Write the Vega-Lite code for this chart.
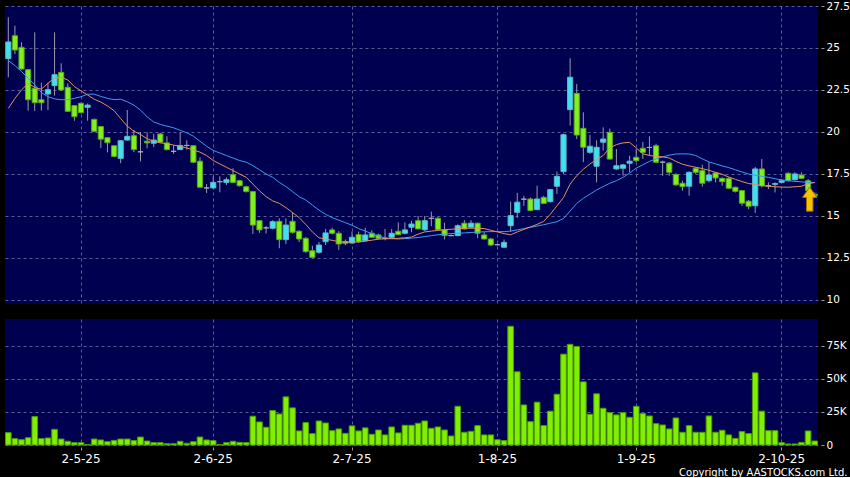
{
  "$schema": "https://vega.github.io/schema/vega-lite/v6.json",
  "background": "#000000",
  "padding": {"left": 4, "top": 1, "right": 0, "bottom": 0},
  "config": {
    "view": {"fill": "#000050", "stroke": null},
    "axis": {"labelColor": "#ffffff", "labelFont": "DejaVu Sans", "labelFontSize": 10.5, "gridColor": "#5c5c94", "gridDash": [3, 3], "gridWidth": 1, "domain": false, "tickColor": "#9a9a9a"}
  },
  "data": {"values": [
    {"d":"14-4-25","o":24.37,"h":26.83,"l":23.26,"c":25.36,"v":9300,"ma10":21.4,"ma20":24.25},
    {"d":"15-4-25","o":25.73,"h":26.33,"l":24.64,"c":24.88,"v":4800,"ma10":22.0,"ma20":23.95},
    {"d":"16-4-25","o":25.04,"h":25.34,"l":23.7,"c":23.75,"v":4000,"ma10":22.5,"ma20":23.6},
    {"d":"17-4-25","o":23.71,"h":23.75,"l":21.27,"c":21.92,"v":5500,"ma10":22.9,"ma20":23.2},
    {"d":"22-4-25","o":22.6,"h":25.93,"l":21.25,"c":21.74,"v":21400,"ma10":22.65,"ma20":22.8},
    {"d":"23-4-25","o":21.92,"h":22.93,"l":21.27,"c":21.74,"v":4800,"ma10":22.55,"ma20":22.35},
    {"d":"24-4-25","o":22.26,"h":22.93,"l":21.31,"c":22.52,"v":5300,"ma10":22.9,"ma20":22.1},
    {"d":"25-4-25","o":22.76,"h":25.93,"l":22.16,"c":23.41,"v":11800,"ma10":23.2,"ma20":21.97},
    {"d":"28-4-25","o":23.55,"h":24.09,"l":22.45,"c":22.5,"v":4500,"ma10":23.25,"ma20":21.92},
    {"d":"29-4-25","o":22.66,"h":22.9,"l":21.2,"c":21.23,"v":2800,"ma10":23.1,"ma20":21.93},
    {"d":"30-4-25","o":21.57,"h":21.6,"l":20.67,"c":20.91,"v":1800,"ma10":22.7,"ma20":22.0},
    {"d":"2-5-25","o":21.71,"h":21.75,"l":21.1,"c":21.15,"v":1800,"ma10":22.45,"ma20":22.1},
    {"d":"6-5-25","o":21.47,"h":21.7,"l":20.67,"c":21.6,"v":300,"ma10":22.2,"ma20":22.25},
    {"d":"7-5-25","o":20.75,"h":20.8,"l":19.98,"c":20.04,"v":4500,"ma10":21.95,"ma20":22.25},
    {"d":"8-5-25","o":20.32,"h":20.35,"l":19.05,"c":19.57,"v":3800,"ma10":21.78,"ma20":22.12},
    {"d":"9-5-25","o":19.66,"h":19.7,"l":18.79,"c":19.36,"v":2500,"ma10":21.55,"ma20":22.0},
    {"d":"12-5-25","o":19.18,"h":19.2,"l":18.5,"c":18.55,"v":3500,"ma10":21.27,"ma20":21.93},
    {"d":"13-5-25","o":18.43,"h":19.5,"l":18.14,"c":19.48,"v":4500,"ma10":20.8,"ma20":21.95},
    {"d":"14-5-25","o":19.52,"h":21.31,"l":19.5,"c":19.74,"v":4500,"ma10":20.35,"ma20":21.8},
    {"d":"15-5-25","o":19.78,"h":20.12,"l":18.8,"c":18.95,"v":3300,"ma10":20.05,"ma20":21.6},
    {"d":"16-5-25","o":18.82,"h":20.0,"l":18.25,"c":18.82,"v":6000,"ma10":19.85,"ma20":21.3},
    {"d":"19-5-25","o":19.45,"h":19.98,"l":19.03,"c":19.35,"v":3000,"ma10":19.6,"ma20":20.9},
    {"d":"20-5-25","o":19.33,"h":19.9,"l":19.1,"c":19.52,"v":1800,"ma10":19.45,"ma20":20.6},
    {"d":"21-5-25","o":19.88,"h":19.95,"l":19.35,"c":19.39,"v":1800,"ma10":19.35,"ma20":20.45},
    {"d":"22-5-25","o":19.35,"h":19.74,"l":18.9,"c":18.95,"v":1000,"ma10":19.3,"ma20":20.35},
    {"d":"23-5-25","o":18.85,"h":19.21,"l":18.7,"c":18.85,"v":1000,"ma10":19.22,"ma20":20.25},
    {"d":"26-5-25","o":18.95,"h":19.98,"l":18.95,"c":19.19,"v":2800,"ma10":19.15,"ma20":20.1},
    {"d":"27-5-25","o":19.2,"h":19.5,"l":18.95,"c":19.2,"v":1300,"ma10":19.05,"ma20":19.95},
    {"d":"28-5-25","o":19.18,"h":19.2,"l":18.15,"c":18.2,"v":2500,"ma10":18.93,"ma20":19.75},
    {"d":"29-5-25","o":18.26,"h":18.49,"l":16.7,"c":16.71,"v":6000,"ma10":18.8,"ma20":19.45},
    {"d":"30-5-25","o":16.67,"h":16.9,"l":16.37,"c":16.67,"v":3800,"ma10":18.6,"ma20":19.15},
    {"d":"2-6-25","o":16.67,"h":17.36,"l":16.6,"c":17.0,"v":3300,"ma10":18.3,"ma20":18.9},
    {"d":"3-6-25","o":17.04,"h":17.36,"l":16.41,"c":17.04,"v":300,"ma10":18.1,"ma20":18.75},
    {"d":"4-6-25","o":17.0,"h":17.3,"l":16.85,"c":17.16,"v":1800,"ma10":17.9,"ma20":18.6},
    {"d":"5-6-25","o":17.46,"h":17.84,"l":16.95,"c":17.0,"v":2800,"ma10":17.7,"ma20":18.45},
    {"d":"6-6-25","o":17.1,"h":17.15,"l":16.75,"c":16.8,"v":2000,"ma10":17.5,"ma20":18.3},
    {"d":"9-6-25","o":16.74,"h":16.8,"l":16.4,"c":16.45,"v":1800,"ma10":17.3,"ma20":18.2},
    {"d":"10-6-25","o":16.45,"h":16.5,"l":13.93,"c":14.46,"v":21700,"ma10":16.9,"ma20":18.0},
    {"d":"11-6-25","o":14.72,"h":14.75,"l":14.0,"c":14.17,"v":17400,"ma10":16.5,"ma20":17.75},
    {"d":"12-6-25","o":14.29,"h":14.4,"l":13.95,"c":14.29,"v":13400,"ma10":16.15,"ma20":17.5},
    {"d":"13-6-25","o":14.27,"h":14.75,"l":14.2,"c":14.66,"v":26000,"ma10":15.9,"ma20":17.3},
    {"d":"16-6-25","o":14.68,"h":14.86,"l":13.08,"c":13.59,"v":23400,"ma10":15.75,"ma20":17.0},
    {"d":"17-6-25","o":13.59,"h":14.86,"l":13.33,"c":14.46,"v":36300,"ma10":15.5,"ma20":16.75},
    {"d":"18-6-25","o":14.68,"h":15.22,"l":13.95,"c":14.03,"v":28000,"ma10":15.2,"ma20":16.45},
    {"d":"19-6-25","o":14.09,"h":14.15,"l":13.45,"c":13.63,"v":10600,"ma10":14.9,"ma20":16.15},
    {"d":"20-6-25","o":13.67,"h":13.75,"l":12.8,"c":12.88,"v":16900,"ma10":14.5,"ma20":15.95},
    {"d":"23-6-25","o":12.93,"h":13.23,"l":12.5,"c":12.54,"v":8600,"ma10":14.05,"ma20":15.65},
    {"d":"24-6-25","o":12.84,"h":13.45,"l":12.75,"c":13.27,"v":18100,"ma10":13.7,"ma20":15.35},
    {"d":"25-6-25","o":13.47,"h":14.23,"l":13.27,"c":13.99,"v":16600,"ma10":13.62,"ma20":15.1},
    {"d":"26-6-25","o":14.17,"h":14.3,"l":13.9,"c":13.97,"v":10800,"ma10":13.55,"ma20":14.9},
    {"d":"27-6-25","o":13.97,"h":14.1,"l":12.98,"c":13.33,"v":12100,"ma10":13.47,"ma20":14.75},
    {"d":"30-6-25","o":13.49,"h":13.6,"l":13.25,"c":13.37,"v":8800,"ma10":13.45,"ma20":14.6},
    {"d":"2-7-25","o":13.39,"h":14.07,"l":13.35,"c":13.73,"v":14400,"ma10":13.45,"ma20":14.45},
    {"d":"3-7-25","o":13.89,"h":14.07,"l":13.4,"c":13.47,"v":10600,"ma10":13.45,"ma20":14.25},
    {"d":"4-7-25","o":13.53,"h":14.3,"l":13.5,"c":13.87,"v":12900,"ma10":13.5,"ma20":14.1},
    {"d":"7-7-25","o":13.97,"h":14.15,"l":13.7,"c":13.73,"v":8100,"ma10":13.56,"ma20":13.95},
    {"d":"8-7-25","o":13.87,"h":13.95,"l":13.6,"c":13.67,"v":11300,"ma10":13.62,"ma20":13.8},
    {"d":"9-7-25","o":13.67,"h":14.23,"l":13.55,"c":13.67,"v":7600,"ma10":13.64,"ma20":13.7},
    {"d":"10-7-25","o":13.73,"h":14.23,"l":13.7,"c":13.97,"v":13600,"ma10":13.65,"ma20":13.65},
    {"d":"11-7-25","o":14.09,"h":14.62,"l":13.85,"c":13.89,"v":9100,"ma10":13.67,"ma20":13.63},
    {"d":"14-7-25","o":13.97,"h":14.62,"l":13.9,"c":14.17,"v":14900,"ma10":13.7,"ma20":13.65},
    {"d":"15-7-25","o":14.33,"h":14.72,"l":14.03,"c":14.52,"v":14900,"ma10":13.75,"ma20":13.68},
    {"d":"16-7-25","o":14.72,"h":15.0,"l":14.2,"c":14.23,"v":16400,"ma10":13.92,"ma20":13.72},
    {"d":"17-7-25","o":14.18,"h":15.0,"l":14.1,"c":14.72,"v":18100,"ma10":14.05,"ma20":13.77},
    {"d":"18-7-25","o":14.86,"h":15.26,"l":14.39,"c":14.86,"v":12600,"ma10":14.1,"ma20":13.83},
    {"d":"21-7-25","o":14.86,"h":14.95,"l":14.15,"c":14.18,"v":13600,"ma10":14.14,"ma20":13.88},
    {"d":"22-7-25","o":14.18,"h":14.6,"l":13.6,"c":13.83,"v":11300,"ma10":14.18,"ma20":13.92},
    {"d":"23-7-25","o":13.83,"h":13.9,"l":13.8,"c":13.83,"v":6800,"ma10":14.21,"ma20":13.95},
    {"d":"24-7-25","o":13.83,"h":14.5,"l":13.8,"c":14.42,"v":29200,"ma10":14.24,"ma20":13.97},
    {"d":"25-7-25","o":14.57,"h":14.75,"l":14.2,"c":14.23,"v":9600,"ma10":14.27,"ma20":13.99},
    {"d":"28-7-25","o":14.33,"h":14.75,"l":14.3,"c":14.57,"v":10300,"ma10":14.27,"ma20":14.02},
    {"d":"29-7-25","o":14.57,"h":14.6,"l":13.67,"c":13.97,"v":14600,"ma10":14.27,"ma20":14.04},
    {"d":"30-7-25","o":13.87,"h":14.05,"l":13.6,"c":13.63,"v":7600,"ma10":14.25,"ma20":14.06},
    {"d":"31-7-25","o":13.63,"h":13.7,"l":13.2,"c":13.27,"v":7600,"ma10":14.15,"ma20":14.07},
    {"d":"1-8-25","o":13.29,"h":13.35,"l":13.25,"c":13.29,"v":4000,"ma10":14.05,"ma20":14.07},
    {"d":"4-8-25","o":13.14,"h":13.6,"l":13.1,"c":13.43,"v":3300,"ma10":13.95,"ma20":14.07},
    {"d":"5-8-25","o":14.42,"h":15.85,"l":14.06,"c":15.02,"v":89500,"ma10":13.88,"ma20":14.1},
    {"d":"6-8-25","o":15.22,"h":16.37,"l":14.9,"c":15.82,"v":55200,"ma10":14.05,"ma20":14.17},
    {"d":"7-8-25","o":16.0,"h":16.2,"l":15.6,"c":16.0,"v":30200,"ma10":14.2,"ma20":14.25},
    {"d":"8-8-25","o":16.01,"h":16.1,"l":15.3,"c":15.32,"v":17600,"ma10":14.35,"ma20":14.32},
    {"d":"11-8-25","o":15.38,"h":16.8,"l":15.35,"c":16.01,"v":32300,"ma10":14.5,"ma20":14.4},
    {"d":"12-8-25","o":16.11,"h":16.2,"l":15.7,"c":15.75,"v":14600,"ma10":14.68,"ma20":14.48},
    {"d":"13-8-25","o":15.85,"h":16.6,"l":15.8,"c":16.57,"v":25500,"ma10":15.1,"ma20":14.57},
    {"d":"14-8-25","o":16.77,"h":17.64,"l":16.31,"c":17.36,"v":38300,"ma10":15.6,"ma20":14.66},
    {"d":"15-8-25","o":17.64,"h":19.9,"l":17.5,"c":19.84,"v":68500,"ma10":16.1,"ma20":14.85},
    {"d":"18-8-25","o":21.33,"h":24.39,"l":20.38,"c":23.26,"v":75900,"ma10":16.9,"ma20":15.3},
    {"d":"19-8-25","o":22.3,"h":22.86,"l":19.58,"c":19.82,"v":74300,"ma10":17.4,"ma20":15.75},
    {"d":"20-8-25","o":20.22,"h":21.17,"l":18.2,"c":19.09,"v":47600,"ma10":17.78,"ma20":16.05},
    {"d":"21-8-25","o":18.79,"h":19.82,"l":18.7,"c":19.15,"v":23200,"ma10":18.1,"ma20":16.3},
    {"d":"22-8-25","o":17.96,"h":19.5,"l":17.0,"c":19.09,"v":38600,"ma10":18.35,"ma20":16.55},
    {"d":"25-8-25","o":19.39,"h":20.28,"l":18.9,"c":19.58,"v":27700,"ma10":18.6,"ma20":16.75},
    {"d":"26-8-25","o":19.98,"h":20.2,"l":18.35,"c":18.39,"v":24400,"ma10":19.05,"ma20":16.95},
    {"d":"27-8-25","o":17.8,"h":18.99,"l":17.75,"c":17.99,"v":22700,"ma10":19.25,"ma20":17.1},
    {"d":"28-8-25","o":17.84,"h":18.1,"l":17.4,"c":18.04,"v":24400,"ma10":19.35,"ma20":17.3},
    {"d":"29-8-25","o":18.14,"h":18.59,"l":17.6,"c":18.26,"v":20900,"ma10":19.38,"ma20":17.55},
    {"d":"1-9-25","o":18.49,"h":18.99,"l":18.2,"c":18.29,"v":29200,"ma10":19.05,"ma20":17.85},
    {"d":"2-9-25","o":19.03,"h":19.4,"l":18.4,"c":18.79,"v":23700,"ma10":18.7,"ma20":18.05},
    {"d":"3-9-25","o":19.08,"h":19.74,"l":18.6,"c":19.08,"v":21900,"ma10":18.6,"ma20":18.25},
    {"d":"4-9-25","o":19.18,"h":19.3,"l":18.15,"c":18.2,"v":16100,"ma10":18.55,"ma20":18.4},
    {"d":"5-9-25","o":18.2,"h":18.3,"l":17.4,"c":18.2,"v":15100,"ma10":18.52,"ma20":18.52},
    {"d":"8-9-25","o":18.15,"h":18.2,"l":17.4,"c":17.6,"v":12100,"ma10":18.45,"ma20":18.62},
    {"d":"9-9-25","o":17.47,"h":17.55,"l":16.8,"c":16.85,"v":20400,"ma10":18.25,"ma20":18.69},
    {"d":"10-9-25","o":16.95,"h":17.1,"l":16.5,"c":16.74,"v":9600,"ma10":18.08,"ma20":18.7},
    {"d":"11-9-25","o":16.77,"h":17.65,"l":16.21,"c":17.6,"v":14600,"ma10":17.98,"ma20":18.69},
    {"d":"12-9-25","o":17.84,"h":17.9,"l":17.5,"c":17.6,"v":9600,"ma10":17.9,"ma20":18.6},
    {"d":"15-9-25","o":17.7,"h":18.05,"l":16.75,"c":16.95,"v":9600,"ma10":17.82,"ma20":18.4},
    {"d":"16-9-25","o":17.1,"h":18.2,"l":17.0,"c":17.44,"v":21900,"ma10":17.72,"ma20":18.22},
    {"d":"17-9-25","o":17.56,"h":17.6,"l":17.0,"c":17.26,"v":9600,"ma10":17.6,"ma20":18.1},
    {"d":"18-9-25","o":17.24,"h":17.3,"l":16.8,"c":17.04,"v":11100,"ma10":17.48,"ma20":17.98},
    {"d":"19-9-25","o":17.24,"h":17.3,"l":16.6,"c":16.65,"v":7600,"ma10":17.32,"ma20":17.88},
    {"d":"22-9-25","o":16.71,"h":16.75,"l":16.4,"c":16.47,"v":5000,"ma10":17.18,"ma20":17.75},
    {"d":"23-9-25","o":16.51,"h":16.55,"l":15.6,"c":15.76,"v":10100,"ma10":17.05,"ma20":17.62},
    {"d":"24-9-25","o":15.88,"h":15.95,"l":15.4,"c":15.58,"v":8600,"ma10":16.93,"ma20":17.5},
    {"d":"25-9-25","o":15.61,"h":17.92,"l":15.18,"c":17.8,"v":54400,"ma10":16.88,"ma20":17.42},
    {"d":"26-9-25","o":17.8,"h":18.39,"l":16.7,"c":16.8,"v":25500,"ma10":16.8,"ma20":17.36},
    {"d":"29-9-25","o":16.8,"h":17.0,"l":16.6,"c":16.8,"v":10800,"ma10":16.77,"ma20":17.3},
    {"d":"30-9-25","o":16.88,"h":17.0,"l":16.4,"c":16.93,"v":10800,"ma10":16.74,"ma20":17.22},
    {"d":"2-10-25","o":17.0,"h":17.2,"l":16.95,"c":17.1,"v":1800,"ma10":16.72,"ma20":17.15},
    {"d":"3-10-25","o":17.54,"h":17.6,"l":17.05,"c":17.1,"v":800,"ma10":16.71,"ma20":17.1},
    {"d":"6-10-25","o":17.16,"h":17.6,"l":17.1,"c":17.5,"v":800,"ma10":16.74,"ma20":17.06},
    {"d":"8-10-25","o":17.44,"h":17.6,"l":17.2,"c":17.24,"v":2000,"ma10":16.77,"ma20":17.03},
    {"d":"9-10-25","o":17.1,"h":17.2,"l":16.45,"c":16.51,"v":10600,"ma10":16.92,"ma20":17.0},
    {"d":"10-10-25","o":16.3,"h":16.4,"l":16.1,"c":16.2,"v":3000,"ma10":17.0,"ma20":16.98}
  ]},
  "spacing": 13,
  "vconcat": [
    {
      "width": 813,
      "height": 298,
      "encoding": {
        "x": {"field": "d", "type": "ordinal", "sort": null, "scale": {"paddingInner": 0, "paddingOuter": 0},
              "axis": {"values": ["2-5-25", "2-6-25", "2-7-25", "1-8-25", "1-9-25", "2-10-25"], "labels": false, "ticks": false, "grid": true, "bandPosition": 0.5, "title": null}}
      },
      "layer": [
        {
          "mark": {"type": "rule", "color": "#9a9aaa", "strokeWidth": 1},
          "encoding": {
            "y": {"field": "l", "type": "quantitative", "title": null, "scale": {"domain": [9.76, 27.5], "nice": false, "zero": false},
                  "axis": {"orient": "right", "values": [10, 12.5, 15, 17.5, 20, 22.5, 25, 27.5], "format": ".3~g", "grid": true, "tickSize": 3, "offset": 3, "labelPadding": 2, "title": null}},
            "y2": {"field": "h"}
          }
        },
        {
          "mark": {"type": "bar", "width": {"band": 0.78}, "strokeWidth": 1},
          "encoding": {
            "y": {"field": "o", "type": "quantitative", "title": null},
            "y2": {"field": "c"},
            "fill": {"condition": {"test": "datum.c > datum.o", "value": "#40e0f0"}, "value": "#80f020"},
            "stroke": {"condition": [{"test": "datum.c == datum.o", "value": "#a8a8b8"}, {"test": "datum.c > datum.o", "value": "#60b8c8"}], "value": "#5aa818"}
          }
        },
        {
          "mark": {"type": "line", "color": "#3c9cf0", "strokeWidth": 1},
          "encoding": {"y": {"field": "ma20", "type": "quantitative", "title": null}}
        },
        {
          "mark": {"type": "line", "color": "#e8905c", "strokeWidth": 1},
          "encoding": {"y": {"field": "ma10", "type": "quantitative", "title": null}}
        },
        {
          "data": {"values": [{"d": "10-10-25", "p": 16.0}]},
          "mark": {"type": "point", "shape": "M0,-1L0.6,-0.15L0.27,-0.15L0.27,1L-0.27,1L-0.27,-0.15L-0.6,-0.15Z", "size": 576, "filled": true, "fill": "#f5c400", "stroke": "#a87000", "strokeWidth": 1, "opacity": 1, "xOffset": -5},
          "encoding": {"y": {"field": "p", "type": "quantitative", "title": null}}
        }
      ]
    },
    {
      "width": 813,
      "height": 126,
      "mark": {"type": "bar", "width": {"band": 0.85}, "fill": "#80f000", "stroke": "#4c9a00", "strokeWidth": 1},
      "encoding": {
        "x": {"field": "d", "type": "ordinal", "sort": null, "scale": {"paddingInner": 0, "paddingOuter": 0},
              "axis": {"values": ["2-5-25", "2-6-25", "2-7-25", "1-8-25", "1-9-25", "2-10-25"], "labelAngle": 0, "grid": true, "bandPosition": 0.5, "tickSize": 3, "offset": 2, "labelPadding": 3, "labelFontSize": 12,
                       "title": "Copyright by AASTOCKS.com Ltd.", "titleColor": "#ffffff", "titleFont": "DejaVu Sans", "titleFontSize": 10, "titleFontWeight": "normal", "titleAnchor": "end", "titleAlign": "right", "titleX": 842, "titleY": 28, "titleBaseline": "alphabetic"}},
        "y": {"field": "v", "type": "quantitative", "scale": {"domain": [0, 95000], "nice": false},
              "axis": {"orient": "right", "values": [0, 25000, 50000, 75000], "labelExpr": "datum.value == 0 ? '0' : (datum.value / 1000) + 'K'", "grid": true, "tickSize": 3, "offset": 3, "labelPadding": 2, "title": null}}
      }
    }
  ]
}
